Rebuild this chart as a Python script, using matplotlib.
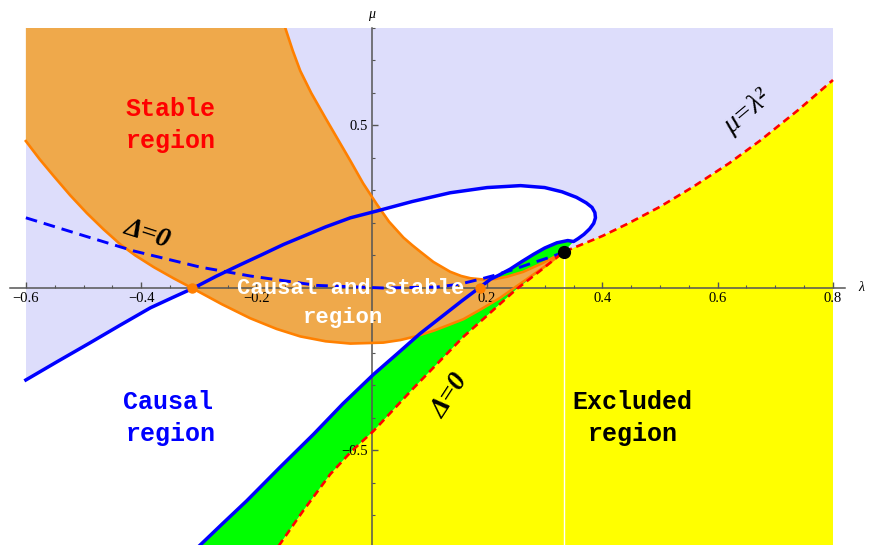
import numpy as np
import matplotlib.pyplot as plt

plt.rcParams['font.family'] = 'Liberation Serif'

# causal boundary (solid blue): left edge -> round the loop -> tip near the cusp
loop_lam = [-0.600, -0.545, -0.490, -0.437, -0.384, -0.345, -0.309, -0.270, -0.230, -0.190,
            -0.153, -0.115, -0.080, -0.037, 0.009, 0.070, 0.136, 0.200, 0.258, 0.300,
            0.330, 0.355, 0.372, 0.382, 0.387, 0.388, 0.385, 0.378, 0.368, 0.358, 0.350]
loop_mu = [-0.283, -0.226, -0.170, -0.115, -0.061, -0.029, 0.000, 0.036, 0.070, 0.103,
           0.134, 0.162, 0.188, 0.216, 0.237, 0.266, 0.293, 0.309, 0.315, 0.309,
           0.296, 0.279, 0.262, 0.248, 0.232, 0.216, 0.199, 0.182, 0.165, 0.152, 0.143]
# ... and from the tip back down to the bottom of the frame
branch_lam = [0.350, 0.340, 0.321, 0.300, 0.281, 0.260, 0.240, 0.220, 0.206, 0.186, 0.156,
              0.120, 0.084, 0.045, 0.003, -0.050, -0.101, -0.160, -0.217, -0.260, -0.303]
branch_mu = [0.143, 0.146, 0.139, 0.123, 0.104, 0.081, 0.058, 0.039, 0.027, 0.000, -0.040,
             -0.090, -0.140, -0.201, -0.266, -0.356, -0.450, -0.553, -0.655, -0.727, -0.800]

# Delta = 0, upper branch (blue dashed), left edge -> cusp
dup_lam = [-0.600, -0.494, -0.413, -0.297, -0.211, -0.095, 0.020, 0.113, 0.153, 0.190,
           0.211, 0.246, 0.280, 0.315, 0.333]
dup_mu = [0.216, 0.158, 0.114, 0.064, 0.037, 0.008, 0.000, 0.003, 0.012, 0.028,
          0.038, 0.057, 0.078, 0.098, 0.111]

# Delta = 0, lower branch (red dashed), bottom -> cusp
dlo_lam = [-0.164, -0.120, -0.072, -0.035, 0.003, 0.073, 0.159, 0.200, 0.250, 0.290, 0.333]
dlo_mu = [-0.800, -0.688, -0.573, -0.502, -0.440, -0.307, -0.150, -0.085, -0.005, 0.050, 0.111]

# mu = lambda^2 (red dashed), cusp -> right edge
par_lam = [0.333, 0.400, 0.443, 0.500, 0.558, 0.620, 0.674, 0.740, 0.800]
par_mu = [0.111, 0.160, 0.197, 0.250, 0.312, 0.384, 0.454, 0.548, 0.640]

# stability boundaries (orange)
stA_lam = [-0.150, -0.137, -0.124, -0.105, -0.080, -0.058, -0.037, -0.015, 0.009, 0.030,
           0.055, 0.070, 0.084, 0.107, 0.136, 0.155, 0.171, 0.194, 0.215, 0.235, 0.263,
           0.298, 0.333]
stA_mu = [0.800, 0.730, 0.668, 0.600, 0.522, 0.455, 0.391, 0.322, 0.257, 0.204,
          0.155, 0.132, 0.112, 0.080, 0.050, 0.037, 0.030, 0.026, 0.028, 0.035, 0.050,
          0.078, 0.111]
stB_lam = [-0.600, -0.576, -0.552, -0.523, -0.494, -0.465, -0.436, -0.410, -0.378, -0.344,
           -0.312, -0.260, -0.211, -0.165, -0.124, -0.080, -0.037, 0.020, 0.050, 0.078,
           0.108, 0.136, 0.159, 0.190, 0.223, 0.260, 0.300, 0.333]
stB_mu = [0.452, 0.396, 0.345, 0.285, 0.230, 0.180, 0.134, 0.100, 0.064, 0.030,
          0.000, -0.050, -0.093, -0.126, -0.149, -0.164, -0.171, -0.168, -0.160, -0.148,
          -0.131, -0.112, -0.096, -0.065, -0.030, 0.016, 0.066, 0.111]

cusp = (0.333, 0.111)
orange_pts_lam = [-0.312, 0.188]
orange_pts_mu = [0.0, 0.0]

lavender = '#DDDDFB'
orange_fill = '#EFA94B'
orange_line = '#FF8000'

fig = plt.figure(figsize=(8.7, 5.45), dpi=100)
ax = fig.add_axes([0.01184, -0.0055, 0.95885, 0.95413])
ax.set_xlim(-0.627, 0.82)
ax.set_ylim(-0.8, 0.8)

# regions
ax.fill([-0.6, 0.8, 0.8, -0.6], [-0.8, -0.8, 0.8, 0.8], color=lavender, lw=0, zorder=0.5)
cl = loop_lam + branch_lam[1:] + [-0.6]
cm = loop_mu + branch_mu[1:] + [-0.8]
ax.fill(cl, cm, color='white', lw=0, zorder=0.6)

yl = par_lam[::-1] + dlo_lam[::-1] + [0.8]
ym = par_mu[::-1] + dlo_mu[::-1] + [-0.8]
ax.fill(yl, ym, color='#FFFF00', lw=0, zorder=0.7)

gl = branch_lam + dlo_lam
gm = branch_mu + dlo_mu
ax.fill(gl, gm, color='#00FF00', lw=0, zorder=0.8)

ol = stA_lam + stB_lam[::-1] + [-0.6]
om = stA_mu + stB_mu[::-1] + [0.8]
ax.fill(ol, om, color=orange_fill, lw=0, zorder=0.9)

ax.plot([cusp[0], cusp[0]], [-0.8, cusp[1]], color='white', lw=1, zorder=1)

# curves
ax.plot(stA_lam, stA_mu, color=orange_line, lw=1.9, zorder=3)
ax.plot(stB_lam, stB_mu, color=orange_line, lw=1.9, zorder=3)
ax.plot(dup_lam, dup_mu, color='#0000FF', lw=2.1, dashes=(4, 2.4), zorder=3.5)
ax.plot(dlo_lam + par_lam[1:], dlo_mu + par_mu[1:], color='#FF0000', lw=1.9,
        dashes=(2.8, 1.8), zorder=3.5)
ax.plot(loop_lam + branch_lam[1:], loop_mu + branch_mu[1:], color='#0000FF', lw=2.5,
        zorder=4, solid_joinstyle='round')

ax.plot(orange_pts_lam, orange_pts_mu, 'o', color=orange_line, ms=6.5, zorder=5)
ax.plot([cusp[0]], [cusp[1]], 'o', color='black', ms=8.5, zorder=5)

# axes through the origin
for s in ['top', 'right']:
    ax.spines[s].set_visible(False)
ax.spines['left'].set_position(('data', 0))
ax.spines['bottom'].set_position(('data', 0))
for s in ['left', 'bottom']:
    ax.spines[s].set_color('#555555')
    ax.spines[s].set_linewidth(1.1)
    ax.spines[s].set_zorder(2)
ax.patch.set_alpha(0)

ax.set_xticks([-0.6, -0.4, -0.2, 0.2, 0.4, 0.6, 0.8])
ax.set_xticklabels(['\u22120.6', '\u22120.4', '\u22120.2', '0.2', '0.4', '0.6', '0.8'])
ax.set_xticks([v for v in np.arange(-0.6, 0.81, 0.05) if abs(v) > 0.01], minor=True)
ax.set_yticks([-0.5, 0.5])
ax.set_yticklabels(['\u22120.5', '0.5'])
ax.set_yticks([v for v in np.arange(-0.8, 0.81, 0.1) if abs(v) > 0.01], minor=True)
ax.tick_params(which='major', direction='in', length=4.5, width=1, color='#555555',
               labelsize=10.5, pad=3)
ax.tick_params(which='minor', direction='in', length=2.5, width=0.8, color='#555555')

ax.text(0.0, 0.84, '\u03bc', ha='center', va='center', fontsize=10, style='italic',
        clip_on=False)
ax.text(0.85, 0.0, '\u03bb', ha='center', va='center', fontsize=10, style='italic',
        clip_on=False)

mono = dict(family='Liberation Mono', weight='bold', ha='center', va='center', zorder=10)
ax.text(-0.349, 0.551, 'Stable', color='#FF0000', fontsize=18, **mono)
ax.text(-0.349, 0.452, 'region', color='#FF0000', fontsize=18, **mono)
ax.text(-0.353, -0.351, 'Causal', color='#0000FF', fontsize=18, **mono)
ax.text(-0.349, -0.449, 'region', color='#0000FF', fontsize=18, **mono)
ax.text(0.452, -0.351, 'Excluded', color='black', fontsize=18, **mono)
ax.text(0.452, -0.449, 'region', color='black', fontsize=18, **mono)
ax.text(-0.037, -0.003, 'Causal and stable', color='white', fontsize=16, **mono)
ax.text(-0.05, -0.092, 'region', color='white', fontsize=16, **mono)

serif = dict(family='Liberation Serif', ha='center', va='center', zorder=10,
             rotation_mode='anchor')
ax.text(-0.390, 0.166, '\u0394=0', fontsize=20, weight='bold', style='italic',
        rotation=-18, **serif)
ax.text(0.137, -0.332, '\u0394=0', fontsize=20, weight='bold', style='italic',
        rotation=57, **serif)
ax.text(0.651, 0.540, '\u03bc=\u03bb\u00b2', fontsize=20, style='italic',
        rotation=40, **serif)

fig.savefig('out.png', dpi=100)
